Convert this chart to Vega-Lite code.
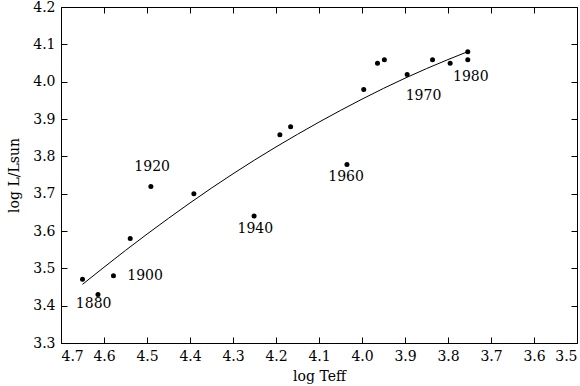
{
  "$schema": "https://vega.github.io/schema/vega-lite/v6.json",
  "width": 516,
  "height": 336,
  "autosize": "none",
  "padding": {"left": 61, "top": 7, "right": 3, "bottom": 43},
  "background": "white",
  "config": {
    "view": {"stroke": null},
    "font": "DejaVu Serif",
    "axis": {"grid": false, "domain": true, "domainColor": "black", "domainWidth": 1, "tickColor": "black", "tickSize": -6, "labelColor": "black", "titleColor": "black", "labelFont": "DejaVu Serif", "titleFont": "DejaVu Serif", "labelFontSize": 14, "titleFontSize": 14, "titleFontWeight": "normal"}
  },
  "datasets": {
    "pts": [
      {"t": 4.650, "l": 3.471},
      {"t": 4.614, "l": 3.430},
      {"t": 4.578, "l": 3.480},
      {"t": 4.539, "l": 3.580},
      {"t": 4.491, "l": 3.719},
      {"t": 4.391, "l": 3.700},
      {"t": 4.251, "l": 3.640},
      {"t": 4.191, "l": 3.858},
      {"t": 4.166, "l": 3.879},
      {"t": 4.035, "l": 3.778},
      {"t": 3.996, "l": 3.979},
      {"t": 3.964, "l": 4.049},
      {"t": 3.948, "l": 4.059},
      {"t": 3.895, "l": 4.019},
      {"t": 3.836, "l": 4.059},
      {"t": 3.795, "l": 4.049},
      {"t": 3.754, "l": 4.080},
      {"t": 3.754, "l": 4.059}
    ],
    "curve": [
      {"t": 4.650, "l": 3.457},
      {"t": 4.550, "l": 3.548},
      {"t": 4.450, "l": 3.634},
      {"t": 4.350, "l": 3.715},
      {"t": 4.250, "l": 3.790},
      {"t": 4.150, "l": 3.859},
      {"t": 4.050, "l": 3.923},
      {"t": 3.950, "l": 3.982},
      {"t": 3.850, "l": 4.035},
      {"t": 3.755, "l": 4.080}
    ],
    "labels": [
      {"t": 4.624, "l": 3.405, "year": "1880"},
      {"t": 4.488, "l": 3.771, "year": "1920"},
      {"t": 4.248, "l": 3.606, "year": "1940"},
      {"t": 4.037, "l": 3.744, "year": "1960"},
      {"t": 3.857, "l": 3.962, "year": "1970"},
      {"t": 3.747, "l": 4.013, "year": "1980"}
    ],
    "labelsLeft": [
      {"t": 4.546, "l": 3.480, "year": "1900"}
    ]
  },
  "layer": [
    {
      "data": {"name": "curve"},
      "mark": {"type": "line", "color": "black", "strokeWidth": 1, "interpolate": "monotone"},
      "encoding": {
        "x": {"field": "t", "type": "quantitative", "scale": {"domain": [4.7, 3.5], "nice": false, "zero": false}, "axis": {"title": "log Teff", "values": [4.7,4.6,4.5,4.4,4.3,4.2,4.1,4.0,3.9,3.8,3.7,3.6,3.5], "format": ".1f", "labelPadding": 12, "titlePadding": 6}},
        "y": {"field": "l", "type": "quantitative", "scale": {"domain": [3.3, 4.2], "nice": false, "zero": false}, "axis": {"title": "log L/Lsun", "values": [3.3,3.4,3.5,3.6,3.7,3.8,3.9,4.0,4.1,4.2], "format": ".1f", "labelPadding": 12, "titlePadding": 11}}
      }
    },
    {
      "data": {"name": "pts"},
      "mark": {"type": "circle", "color": "black", "opacity": 1, "size": 25},
      "encoding": {
        "x": {"field": "t", "type": "quantitative", "axis": {"orient": "top", "labels": false, "title": null, "values": [4.7,4.6,4.5,4.4,4.3,4.2,4.1,4.0,3.9,3.8,3.7,3.6,3.5]}},
        "y": {"field": "l", "type": "quantitative", "axis": {"orient": "right", "labels": false, "title": null, "values": [3.3,3.4,3.5,3.6,3.7,3.8,3.9,4.0,4.1,4.2]}}
      }
    },
    {
      "data": {"name": "labels"},
      "mark": {"type": "text", "color": "black", "fontSize": 14, "font": "DejaVu Serif", "align": "center", "baseline": "middle"},
      "encoding": {
        "x": {"field": "t", "type": "quantitative", "axis": null},
        "y": {"field": "l", "type": "quantitative", "axis": null},
        "text": {"field": "year"}
      }
    },
    {
      "data": {"name": "labelsLeft"},
      "mark": {"type": "text", "color": "black", "fontSize": 14, "font": "DejaVu Serif", "align": "left", "baseline": "middle"},
      "encoding": {
        "x": {"field": "t", "type": "quantitative", "axis": null},
        "y": {"field": "l", "type": "quantitative", "axis": null},
        "text": {"field": "year"}
      }
    }
  ],
  "resolve": {"axis": {"x": "independent", "y": "independent"}}
}
